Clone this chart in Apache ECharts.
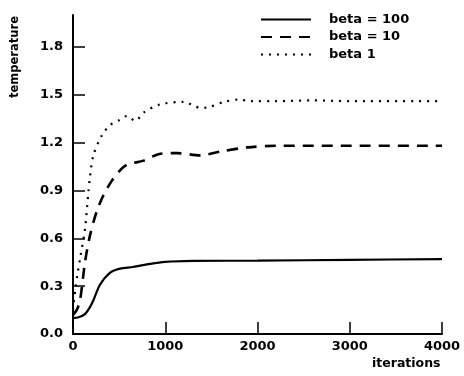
<!DOCTYPE html>
<html><head><meta charset="utf-8">
<script src="https://cdn.jsdelivr.net/npm/echarts@6/dist/echarts.min.js"></script>
<style>html,body{margin:0;padding:0;background:#fff}#c{width:464px;height:376px}</style>
</head><body><div id="c"></div>
<script>
const xTicks = [0, 1000, 2000, 3000, 4000];
const yTicks = [0, 0.3, 0.6, 0.9, 1.2, 1.5, 1.8];

const iter100 = [0, 60, 130, 185, 220, 294, 403, 511, 650, 838, 1000, 1300, 2000, 3000, 4000];
const beta100 = [0.10, 0.105, 0.125, 0.17, 0.21, 0.31, 0.385, 0.41, 0.42, 0.44, 0.452, 0.458, 0.46, 0.465, 0.47];

const iter10 = [0, 40, 76, 130, 185, 258, 330, 420, 500, 584, 765, 947, 1130, 1380, 1600, 1890, 2200, 2600, 3000, 4000];
const beta10 = [0.12, 0.15, 0.21, 0.45, 0.62, 0.77, 0.87, 0.96, 1.02, 1.06, 1.087, 1.13, 1.134, 1.12, 1.144, 1.17, 1.18, 1.18, 1.18, 1.18];

const iter1 = [0, 25, 50, 76, 130, 167, 185, 221, 312, 403, 500, 584, 675, 765, 947, 1200, 1382, 1455, 1636, 1795, 1926, 2200, 2600, 3000, 4000];
const beta1 = [0.15, 0.28, 0.38, 0.47, 0.66, 0.89, 0.99, 1.12, 1.245, 1.31, 1.34, 1.367, 1.336, 1.388, 1.44, 1.455, 1.418, 1.42, 1.455, 1.47, 1.46, 1.46, 1.465, 1.46, 1.46];

const names = ['beta = 100', 'beta = 10', 'beta 1'];
const FONT = 'DejaVu Sans';
const pair = (xs, ys) => xs.map((x, i) => [x, ys[i]]);

const chart = echarts.init(document.getElementById('c'), null, {renderer: 'canvas'});
const axisCommon = {
  axisLine: {show: true, lineStyle: {color: '#000', width: 2}},
  axisTick: {show: true, inside: true, length: 12, lineStyle: {color: '#000', width: 1.5}},
  axisLabel: {color: '#000', fontFamily: FONT, fontWeight: 'bold', fontSize: 13},
  splitLine: {show: false}
};
chart.setOption({
  animation: false,
  backgroundColor: '#fff',
  grid: {left: 73, right: 22, top: 15, bottom: 42},
  legend: {
    orient: 'vertical', left: 255, top: 8, itemWidth: 50, itemHeight: 14, itemGap: 4.5,
    data: names,
    itemStyle: {opacity: 0},
    textStyle: {color: '#000', fontFamily: FONT, fontWeight: 'bold', fontSize: 13, padding: [0, 0, 0, 13]}
  },
  xAxis: Object.assign({}, axisCommon, {
    type: 'value', min: 0, max: 4000, interval: 1000,
    axisLabel: Object.assign({}, axisCommon.axisLabel, {margin: 6, customValues: xTicks, formatter: v => String(v)}),
    axisTick: Object.assign({}, axisCommon.axisTick, {customValues: xTicks})
  }),
  yAxis: Object.assign({}, axisCommon, {
    type: 'value', min: 0, max: 2.0,
    axisLabel: Object.assign({}, axisCommon.axisLabel, {margin: 10, customValues: yTicks, formatter: v => v.toFixed(1)}),
    axisTick: Object.assign({}, axisCommon.axisTick, {customValues: yTicks})
  }),
  graphic: [
    {type: 'text', left: 372, top: 357, style: {text: 'iterations', fill: '#000', font: 'bold 12.5px "DejaVu Sans"'}},
    {type: 'text', x: 15, y: 57, rotation: Math.PI / 2,
     style: {text: 'temperature', fill: '#000', font: 'bold 11.5px "DejaVu Sans"', align: 'center', verticalAlign: 'middle'}}
  ],
  series: [
    {name: names[0], type: 'line', data: pair(iter100, beta100), symbol: 'none', smooth: 0.3,
     lineStyle: {color: '#000', width: 2.2, type: 'solid'}, itemStyle: {color: '#000'}},
    {name: names[1], type: 'line', data: pair(iter10, beta10), symbol: 'none', smooth: 0.3,
     lineStyle: {color: '#000', width: 2.6, type: [11, 8]}, itemStyle: {color: '#000'}},
    {name: names[2], type: 'line', data: pair(iter1, beta1), symbol: 'none', smooth: 0.3,
     lineStyle: {color: '#000', width: 2.2, type: [2, 6]}, itemStyle: {color: '#000'}}
  ]
});
</script></body></html>
